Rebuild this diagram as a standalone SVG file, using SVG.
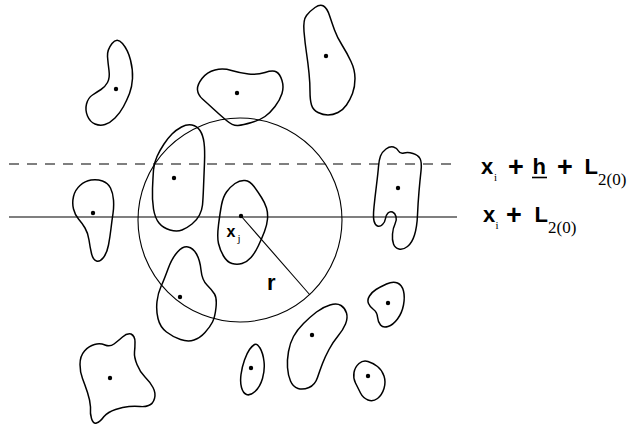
<svg xmlns="http://www.w3.org/2000/svg" width="630" height="428" viewBox="0 0 630 428">
<style>
.blob{fill:none;stroke:#000;stroke-width:1.5;stroke-linejoin:round}
.dot{fill:#000}
.ln{stroke:#000;stroke-width:1.1;fill:none}
.t{font-family:"Liberation Sans",Arial,sans-serif;font-weight:bold;fill:#000}
.s{font-family:"Liberation Serif","Times New Roman",serif;fill:#000}
.p{font-family:"Liberation Sans",Arial,sans-serif;font-weight:bold;font-size:27px;fill:#000}
</style>
<rect width="630" height="428" fill="#fff"/>
<g id="connectors">
<line class="ln" x1="9" y1="164" x2="456" y2="164" stroke-dasharray="10 8"/>
<line class="ln" x1="9" y1="217" x2="457" y2="217"/>
<circle class="ln" cx="240" cy="220" r="102" stroke-width="1.3"/>
<line class="ln" x1="241" y1="216" x2="310" y2="295"/>
</g>
<g id="blobA"><path class="blob" d="M122.5,43.5 Q128,50 130.5,60 Q133,70 132.5,78.5 Q132,87 129.5,93.5 Q127,100 123.5,106.5 Q120,113 115,118 Q110,123 105,124.5 Q100,126 95,124 Q90,122 87.5,116 Q85,110 86.5,104 Q88,98 92.5,95 Q97,92 101,89.5 Q105,87 107.5,82.5 Q110,78 109,70.5 Q108,63 107.5,56.5 Q107,50 112,43.5 Q117,37 122.5,43.5 Z"/><circle class="dot" cx="116" cy="89" r="2.2"/></g>
<g id="blobB"><path class="blob" d="M202,78.5 Q207,72 215,70 Q223,68 231.5,70.5 Q240,73 248.5,74 Q257,75 265,72.5 Q273,70 276.5,72 Q280,74 282,80.5 Q284,87 282,93.5 Q280,100 275,106.5 Q270,113 265,116.5 Q260,120 251.5,122.5 Q243,125 238,125.5 Q233,126 226.5,120.5 Q220,115 213.5,109 Q207,103 202.5,99 Q198,95 197.5,90 Q197,85 202,78.5 Z"/><circle class="dot" cx="237" cy="93" r="2.2"/></g>
<g id="blobC"><path class="blob" d="M323.5,6 Q327,8 329.5,15.5 Q332,23 334.5,30 Q337,37 342,45 Q347,53 351,61.5 Q355,70 355,78.5 Q355,87 352.5,93.5 Q350,100 346.5,105 Q343,110 338,112.5 Q333,115 328,115 Q323,115 318,112.5 Q313,110 311.5,105 Q310,100 310,91.5 Q310,83 309,73 Q308,63 306.5,53 Q305,43 304,31.5 Q303,20 306.5,15.5 Q310,11 315,7.5 Q320,4 323.5,6 Z"/><circle class="dot" cx="326" cy="56" r="2.2"/></g>
<g id="blobD"><path class="blob" d="M102.5,181 Q108,183 110.5,188 Q113,193 113.5,200 Q114,207 113,213.5 Q112,220 111,228.5 Q110,237 108.5,245 Q107,253 103.5,257.5 Q100,262 96.5,261 Q93,260 91.5,253.5 Q90,247 89,240 Q88,233 85,228 Q82,223 78.5,219 Q75,215 73.5,209 Q72,203 73.5,196.5 Q75,190 80,185.5 Q85,181 91,180 Q97,179 102.5,181 Z"/><circle class="dot" cx="93" cy="213" r="2.2"/></g>
<g id="blobE"><path class="blob" d="M192,125 Q197,126 200,130.5 Q203,135 204,142.5 Q205,150 204.5,162.5 Q204,175 203.5,187.5 Q203,200 202.5,205 Q202,210 199.5,215 Q197,220 192,224 Q187,228 182,230 Q177,232 170,230 Q163,228 159,223 Q155,218 153.5,209 Q152,200 152.5,188.5 Q153,177 153.5,170 Q154,163 157,156.5 Q160,150 164,144 Q168,138 172,134 Q176,130 181.5,127 Q187,124 192,125 Z"/><circle class="dot" cx="174" cy="178" r="2.2"/></g>
<g id="blobF"><path class="blob" d="M245,180.5 Q250,181 254,186.5 Q258,192 261.5,197.5 Q265,203 266.5,208 Q268,213 267.5,219 Q267,225 264.5,231.5 Q262,238 258.5,245.5 Q255,253 251,257.5 Q247,262 242,263.5 Q237,265 232,263.5 Q227,262 223.5,256 Q220,250 218.5,243.5 Q217,237 218.5,225 Q220,213 221.5,205 Q223,197 226.5,192 Q230,187 235,183.5 Q240,180 245,180.5 Z"/><circle class="dot" cx="241" cy="216" r="2.2"/>
<text class="t" x="226.5" y="236.5" font-size="16">x</text><text class="s" x="237.5" y="242" font-size="11">j</text></g>
<g id="blobG"><path class="blob" d="M386,149 Q390,146 393.5,147 Q397,148 398.5,151 Q400,154 404,153 Q408,152 413,153.5 Q418,155 420,158.5 Q422,162 421,171 Q420,180 419,191.5 Q418,203 417.5,215 Q417,227 414.5,235 Q412,243 407.5,246.5 Q403,250 399,249 Q395,248 393.5,244 Q392,240 392.5,234 Q393,228 395,224 Q397,220 396,216.5 Q395,213 392.5,212 Q390,211 388,213 Q386,215 385.5,218.5 Q385,222 382.5,224.5 Q380,227 377.5,226 Q375,225 374,221 Q373,217 374,207 Q375,197 376.5,185 Q378,173 378.5,166.5 Q379,160 380.5,156 Q382,152 386,149 Z"/><circle class="dot" cx="398" cy="188" r="2.2"/></g>
<g id="blobH"><path class="blob" d="M188,247 Q193,248 196.5,254 Q200,260 201,270 Q202,280 207,285 Q212,290 214.5,294 Q217,298 216,307.5 Q215,317 212.5,322 Q210,327 205,332.5 Q200,338 194,340 Q188,342 180.5,339.5 Q173,337 166.5,332 Q160,327 158,318.5 Q156,310 157,301.5 Q158,293 161,286.5 Q164,280 168,269 Q172,258 177.5,252 Q183,246 188,247 Z"/><circle class="dot" cx="180" cy="297" r="2.2"/></g>
<g id="blobI"><path class="blob" d="M131,334 Q135,336 135,342 Q135,348 134.5,352 Q134,357 137,364.5 Q140,372 145,377 Q150,382 153,387.5 Q156,393 154.5,398.5 Q153,404 148.5,405.5 Q145,407 140,406.5 Q135,406 129,406.5 Q123,407 115.5,409.5 Q108,412 104,416.5 Q100,422 96.5,423 Q93,424 91.5,418.5 Q90,414 90.5,407 Q90,400 87.5,392.5 Q85,385 82.5,378.5 Q80,372 80,364.5 Q80,356 84.5,351 Q89,346 94.5,344.5 Q100,343 105,345 Q110,347 114,344 Q118,341 122.5,337 Q127,333 131,334 Z"/><circle class="dot" cx="110" cy="378" r="2.2"/></g>
<g id="blobJ"><path class="blob" d="M260,348 Q263,353 264,361.5 Q265,370 262.5,378.5 Q260,387 255,391.5 Q250,396 246.5,394.5 Q243,393 241.5,387.5 Q240,382 241,374.5 Q242,367 244.5,360 Q247,353 249.5,349.5 Q252,346 254.5,344.5 Q257,343 260,348 Z"/><circle class="dot" cx="251" cy="368" r="2.2"/></g>
<g id="blobK"><path class="blob" d="M341,305.5 Q345,308 346.5,313 Q348,318 345.5,324 Q343,330 338,336 Q333,342 329,349.5 Q325,357 322.5,363.5 Q320,370 317.5,377.5 Q315,385 309,387.5 Q303,390 298,388.5 Q293,387 290.5,381 Q288,375 287.5,367.5 Q287,360 288.5,351.5 Q290,343 293.5,336.5 Q297,330 303.5,323.5 Q310,317 316.5,312 Q323,307 330,305 Q337,303 341,305.5 Z"/><circle class="dot" cx="312" cy="335" r="2.2"/></g>
<g id="blobL"><path class="blob" d="M397.5,283 Q402,285 403.5,291 Q405,297 403.5,305 Q402,313 397.5,319 Q393,325 388,326.5 Q383,328 380.5,325 Q378,322 377.5,317 Q377,312 373.5,309.5 Q370,307 368.5,303.5 Q367,300 369.5,296 Q372,292 376,289.5 Q380,287 386.5,284 Q393,281 397.5,283 Z"/><circle class="dot" cx="388" cy="303" r="2.2"/></g>
<g id="blobM"><path class="blob" d="M368,361.5 Q373,363 377.5,366.5 Q382,370 384,376 Q386,382 384,388.5 Q382,395 377.5,398.5 Q373,402 368,400 Q363,398 360.5,393 Q358,388 355.5,383 Q353,378 354,372.5 Q355,367 359,363.5 Q363,360 368,361.5 Z"/><circle class="dot" cx="368" cy="376" r="2.2"/></g>
<g id="radiusLabel"><text class="t" x="267" y="290" font-size="22">r</text></g>
<g id="label1">
<text class="t" x="481" y="173.5" font-size="22">x</text>
<text class="s" x="494" y="181" font-size="11">i</text>
<text class="p" x="508" y="176">+</text>
<text class="t" x="532.5" y="173.5" font-size="22">h</text>
<line x1="532" y1="177.5" x2="547" y2="177.5" stroke="#000" stroke-width="1.6"/>
<text class="p" x="557" y="176">+</text>
<text class="t" x="584.5" y="173.5" font-size="22">L</text>
<text class="s" x="598" y="185" font-size="17">2(0)</text>
</g>
<g id="label2">
<text class="t" x="483" y="221.7" font-size="22">x</text>
<text class="s" x="495.5" y="229" font-size="11">i</text>
<text class="p" x="506" y="224">+</text>
<text class="t" x="534.5" y="221.7" font-size="22">L</text>
<text class="s" x="548" y="233" font-size="17">2(0)</text>
</g>
</svg>
